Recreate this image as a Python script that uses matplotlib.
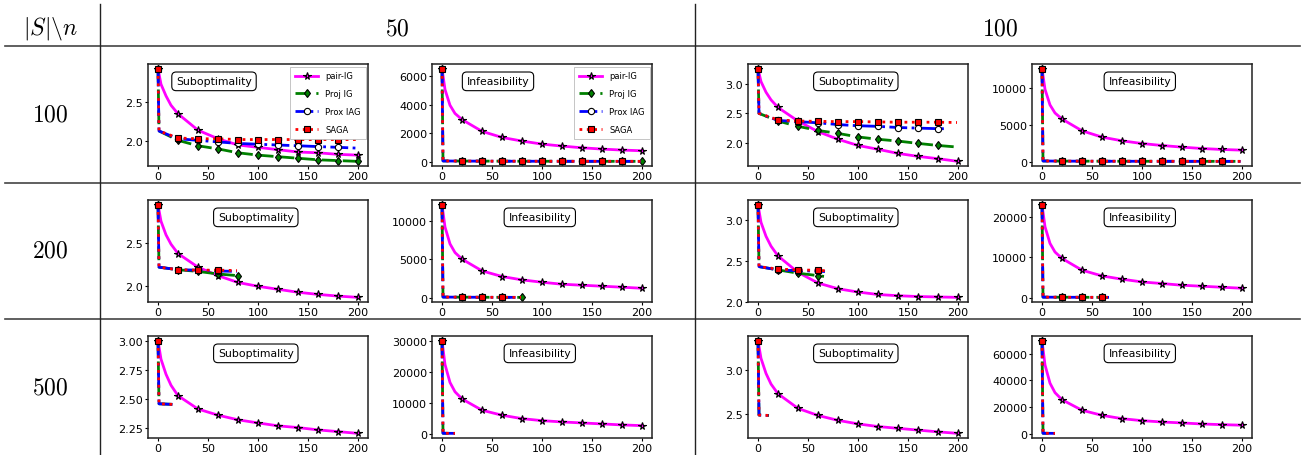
import matplotlib
matplotlib.use("Agg")
import matplotlib.pyplot as plt
from matplotlib.lines import Line2D

plt.rcParams['mathtext.fontset'] = 'cm'
plt.rcParams['font.family'] = ['DejaVu Sans']

# ---------------- data ----------------
series_names = ["pair-IG", "Proj IG", "Prox IAG", "SAGA"]
n_labels = ["50", "100"]
s_labels = ["100", "200", "500"]
panel_titles = ["Suboptimality", "Infeasibility"]
corner_label = r"$|S|\backslash n$"

it_pair = [0, 3, 8, 13, 20, 40, 60, 80, 100, 120, 140, 160, 180, 200]

# |S| = 100, n = 50
pair_s100_n50_sub = [2.93, 2.73, 2.58, 2.46, 2.35, 2.14, 2.03, 1.95, 1.92, 1.89, 1.86, 1.85, 1.83, 1.82]
it_proj_s100_n50 = [0, 1, 20, 40, 60, 80, 100, 120, 140, 160, 180, 200]
it_prox_s100_n50 = [0, 1, 20, 40, 60, 80, 100, 120, 140, 160, 180, 199]
it_saga_s100_n50 = [0, 1, 20, 40, 60, 80, 100, 120, 140, 160, 180, 199]
proj_s100_n50_sub = [2.93, 2.13, 2.01, 1.94, 1.90, 1.85, 1.82, 1.80, 1.78, 1.76, 1.75, 1.74]
prox_s100_n50_sub = [2.93, 2.13, 2.03, 2.01, 1.99, 1.97, 1.96, 1.95, 1.94, 1.93, 1.92, 1.91]
saga_s100_n50_sub = [2.93, 2.13, 2.04, 2.03, 2.03, 2.02, 2.02, 2.02, 2.02, 2.02, 2.02, 2.02]
pair_s100_n50_inf = [6550, 5080, 3970, 3390, 2960, 2130, 1700, 1445, 1230, 1090, 970, 880, 810, 760]
proj_s100_n50_inf = [6550, 45, 35, 30, 26, 23, 21, 19, 17, 16, 15, 14]
prox_s100_n50_inf = [6550, 40, 32, 28, 24, 22, 20, 18, 16, 15, 14, 13]
saga_s100_n50_inf = [6550, 42, 34, 29, 25, 22, 20, 18, 17, 16, 15, 14]

# |S| = 100, n = 100
pair_s100_n100_sub = [3.26, 3.04, 2.86, 2.73, 2.60, 2.37, 2.19, 2.06, 1.955, 1.89, 1.82, 1.77, 1.73, 1.685]
it_proj_s100_n100 = [0, 1, 20, 40, 60, 80, 100, 120, 140, 160, 180, 198]
it_prox_s100_n100 = [0, 1, 20, 40, 60, 80, 100, 120, 140, 160, 180, 188]
it_saga_s100_n100 = [0, 1, 20, 40, 60, 80, 100, 120, 140, 160, 180, 199]
proj_s100_n100_sub = [3.26, 2.50, 2.37, 2.28, 2.21, 2.16, 2.10, 2.06, 2.03, 1.99, 1.955, 1.93]
prox_s100_n100_sub = [3.26, 2.50, 2.38, 2.36, 2.34, 2.31, 2.29, 2.28, 2.26, 2.25, 2.24, 2.24]
saga_s100_n100_sub = [3.26, 2.50, 2.39, 2.37, 2.365, 2.36, 2.36, 2.355, 2.35, 2.35, 2.35, 2.345]
pair_s100_n100_inf = [12630, 9820, 7700, 6600, 5780, 4180, 3320, 2820, 2450, 2180, 1960, 1770, 1640, 1550]
proj_s100_n100_inf = [12630, 80, 60, 50, 45, 40, 36, 33, 30, 28, 26, 25]
prox_s100_n100_inf = [12630, 75, 55, 48, 42, 38, 34, 31, 29, 27, 25, 24]
saga_s100_n100_inf = [12630, 78, 58, 49, 44, 39, 35, 32, 30, 28, 26, 25]

# |S| = 200, n = 50
pair_s200_n50_sub = [2.955, 2.76, 2.60, 2.49, 2.38, 2.22, 2.12, 2.04, 1.995, 1.96, 1.925, 1.90, 1.88, 1.865]
it_proj_s200_n50 = [0, 1, 20, 40, 60, 80]
it_prox_s200_n50 = [0, 1, 20, 40, 60, 79]
it_saga_s200_n50 = [0, 1, 20, 40, 60, 79]
proj_s200_n50_sub = [2.955, 2.22, 2.19, 2.17, 2.14, 2.12]
prox_s200_n50_sub = [2.955, 2.22, 2.19, 2.185, 2.175, 2.17]
saga_s200_n50_sub = [2.955, 2.22, 2.19, 2.185, 2.185, 2.18]
pair_s200_n50_inf = [12180, 9250, 7040, 5900, 5040, 3500, 2760, 2320, 2010, 1750, 1620, 1490, 1360, 1220]
proj_s200_n50_inf = [12180, 70, 50, 40, 32, 28]
prox_s200_n50_inf = [12180, 65, 48, 38, 30, 27]
saga_s200_n50_inf = [12180, 68, 49, 39, 31, 27]

# |S| = 200, n = 100
pair_s200_n100_sub = [3.186, 2.97, 2.80, 2.68, 2.56, 2.36, 2.23, 2.16, 2.12, 2.09, 2.075, 2.065, 2.06, 2.055]
it_proj_s200_n100 = [0, 1, 20, 40, 60, 66]
it_prox_s200_n100 = [0, 1, 20, 40, 60, 67]
it_saga_s200_n100 = [0, 1, 20, 40, 60, 67]
proj_s200_n100_sub = [3.186, 2.43, 2.39, 2.35, 2.32, 2.31]
prox_s200_n100_sub = [3.186, 2.43, 2.39, 2.38, 2.375, 2.37]
saga_s200_n100_sub = [3.186, 2.43, 2.40, 2.39, 2.385, 2.38]
pair_s200_n100_inf = [23150, 17650, 13500, 11350, 9750, 6830, 5400, 4580, 3900, 3500, 3080, 2830, 2580, 2330]
proj_s200_n100_inf = [23150, 120, 90, 75, 65, 60]
prox_s200_n100_inf = [23150, 110, 85, 70, 62, 58]
saga_s200_n100_inf = [23150, 115, 88, 72, 63, 59]

# |S| = 500, n = 50
pair_s500_n50_sub = [3.00, 2.84, 2.71, 2.615, 2.525, 2.41, 2.357, 2.317, 2.29, 2.265, 2.25, 2.23, 2.215, 2.20]
it_other_s500_n50_sub = [0, 1, 15]
it_other_s500_n50_inf = [0, 1, 13]
proj_s500_n50_sub = [3.00, 2.455, 2.45]
prox_s500_n50_sub = [3.00, 2.455, 2.45]
saga_s500_n50_sub = [3.00, 2.455, 2.45]
pair_s500_n50_inf = [30000, 22300, 16500, 13500, 11200, 7550, 5940, 4840, 4190, 3770, 3450, 3130, 2810, 2580]
proj_s500_n50_inf = [30000, 120, 90]
prox_s500_n50_inf = [30000, 110, 85]
saga_s500_n50_inf = [30000, 115, 88]

# |S| = 500, n = 100
pair_s500_n100_sub = [3.33, 3.13, 2.96, 2.84, 2.73, 2.565, 2.485, 2.43, 2.39, 2.36, 2.34, 2.32, 2.30, 2.283]
it_other_s500_n100_sub = [0, 1, 11]
it_other_s500_n100_inf = [0, 1, 13]
proj_s500_n100_sub = [3.33, 2.49, 2.485]
prox_s500_n100_sub = [3.33, 2.49, 2.485]
saga_s500_n100_sub = [3.33, 2.49, 2.485]
pair_s500_n100_inf = [69700, 51500, 37800, 30700, 25400, 17500, 13700, 11200, 9700, 8700, 8000, 7200, 6700, 6300]
proj_s500_n100_inf = [69700, 250, 180]
prox_s500_n100_inf = [69700, 230, 170]
saga_s500_n100_inf = [69700, 240, 175]

# y tick values per panel (row = |S|, col = n, metric)
yt_s100_n50_sub = [2.0, 2.5]
yt_s100_n50_inf = [0, 2000, 4000, 6000]
yt_s100_n100_sub = [2.0, 2.5, 3.0]
yt_s100_n100_inf = [0, 5000, 10000]
yt_s200_n50_sub = [2.0, 2.5]
yt_s200_n50_inf = [0, 5000, 10000]
yt_s200_n100_sub = [2.0, 2.5, 3.0]
yt_s200_n100_inf = [0, 10000, 20000]
yt_s500_n50_sub = [2.25, 2.50, 2.75, 3.00]
yt_s500_n50_inf = [0, 10000, 20000, 30000]
yt_s500_n100_sub = [2.5, 3.0]
yt_s500_n100_inf = [0, 20000, 40000, 60000]
xt = [0, 50, 100, 150, 200]

# panel table: (row, col, title, pair, (it, proj), (it, prox), (it, saga), yticks, legend)
panels = [
    (0, 0, 0, pair_s100_n50_sub, (it_proj_s100_n50, proj_s100_n50_sub), (it_prox_s100_n50, prox_s100_n50_sub), (it_saga_s100_n50, saga_s100_n50_sub), yt_s100_n50_sub, True),
    (0, 1, 1, pair_s100_n50_inf, (it_proj_s100_n50, proj_s100_n50_inf), (it_prox_s100_n50, prox_s100_n50_inf), (it_saga_s100_n50, saga_s100_n50_inf), yt_s100_n50_inf, True),
    (0, 2, 0, pair_s100_n100_sub, (it_proj_s100_n100, proj_s100_n100_sub), (it_prox_s100_n100, prox_s100_n100_sub), (it_saga_s100_n100, saga_s100_n100_sub), yt_s100_n100_sub, False),
    (0, 3, 1, pair_s100_n100_inf, (it_saga_s100_n100, proj_s100_n100_inf), (it_saga_s100_n100, prox_s100_n100_inf), (it_saga_s100_n100, saga_s100_n100_inf), yt_s100_n100_inf, False),
    (1, 0, 0, pair_s200_n50_sub, (it_proj_s200_n50, proj_s200_n50_sub), (it_prox_s200_n50, prox_s200_n50_sub), (it_saga_s200_n50, saga_s200_n50_sub), yt_s200_n50_sub, False),
    (1, 1, 1, pair_s200_n50_inf, (it_proj_s200_n50, proj_s200_n50_inf), (it_prox_s200_n50, prox_s200_n50_inf), (it_saga_s200_n50, saga_s200_n50_inf), yt_s200_n50_inf, False),
    (1, 2, 0, pair_s200_n100_sub, (it_proj_s200_n100, proj_s200_n100_sub), (it_prox_s200_n100, prox_s200_n100_sub), (it_saga_s200_n100, saga_s200_n100_sub), yt_s200_n100_sub, False),
    (1, 3, 1, pair_s200_n100_inf, (it_proj_s200_n100, proj_s200_n100_inf), (it_prox_s200_n100, prox_s200_n100_inf), (it_saga_s200_n100, saga_s200_n100_inf), yt_s200_n100_inf, False),
    (2, 0, 0, pair_s500_n50_sub, (it_other_s500_n50_sub, proj_s500_n50_sub), (it_other_s500_n50_sub, prox_s500_n50_sub), (it_other_s500_n50_sub, saga_s500_n50_sub), yt_s500_n50_sub, False),
    (2, 1, 1, pair_s500_n50_inf, (it_other_s500_n50_inf, proj_s500_n50_inf), (it_other_s500_n50_inf, prox_s500_n50_inf), (it_other_s500_n50_inf, saga_s500_n50_inf), yt_s500_n50_inf, False),
    (2, 2, 0, pair_s500_n100_sub, (it_other_s500_n100_sub, proj_s500_n100_sub), (it_other_s500_n100_sub, prox_s500_n100_sub), (it_other_s500_n100_sub, saga_s500_n100_sub), yt_s500_n100_sub, False),
    (2, 3, 1, pair_s500_n100_inf, (it_other_s500_n100_inf, proj_s500_n100_inf), (it_other_s500_n100_inf, prox_s500_n100_inf), (it_other_s500_n100_inf, saga_s500_n100_inf), yt_s500_n100_inf, False),
]

# ---------------- layout ----------------
W, H = 1304, 456
fig = plt.figure(figsize=(W / 100, H / 100), dpi=100)
fig.patch.set_facecolor('white')

col_left = [148, 432, 748, 1032]
row_top = [65, 201, 337]
ax_w, ax_h = 220, 102

def fx(px):
    return px / W

def fy(py):
    return 1 - py / H

def hline(y, x0, x1, lw=1.0, color='#444444'):
    fig.add_artist(Line2D([fx(x0), fx(x1)], [fy(y), fy(y)], lw=lw, color=color, transform=fig.transFigure))

def vline(x, y0, y1, lw=1.0, color='#222222'):
    fig.add_artist(Line2D([fx(x), fx(x)], [fy(y0), fy(y1)], lw=lw, color=color, transform=fig.transFigure))

hline(47, 5, 1300, lw=1.2)
hline(184, 5, 1300, lw=1.2)
hline(320, 5, 1300, lw=1.2)
vline(100, 5, 456)
vline(695, 5, 456)

fig.text(fx(50), fy(28), corner_label, ha='center', va='center', fontsize=17)
fig.text(fx(397), fy(28), "$" + n_labels[0] + "$", ha='center', va='center', fontsize=17)
fig.text(fx(1000), fy(28), "$" + n_labels[1] + "$", ha='center', va='center', fontsize=17)
for r, yc in enumerate([115, 251, 388]):
    fig.text(fx(50), fy(yc), "$" + s_labels[r] + "$", ha='center', va='center', fontsize=17)

styles = [
    dict(color='#ff00ff', ls='-', marker='*', mfc='#ff00ff', ms=5.5),
    dict(color='green', ls=(0, (5, 2.5)), marker='d', mfc='green', ms=4.5),
    dict(color='blue', ls='-.', marker='o', mfc='white', ms=4.5),
    dict(color='red', ls=':', marker='s', mfc='red', ms=4.5),
]

for (r, c, t, pair, proj, prox, saga, yt, leg) in panels:
    ax = fig.add_axes([fx(col_left[c]), fy(row_top[r] + ax_h), fx(ax_w), ax_h / H])
    handles = []
    for k, (xs, ys) in enumerate([(it_pair, pair), proj, prox, saga]):
        st = styles[k]
        mk = [i for i, x in enumerate(xs) if x % 20 == 0]
        h, = ax.plot(xs, ys, color=st['color'], ls=st['ls'], lw=2.0, marker=st['marker'],
                     mfc=st['mfc'], mec='black', mew=0.8, ms=st['ms'], markevery=mk,
                     label=series_names[k])
        handles.append(h)
    ax.set_xticks(xt)
    ax.set_yticks(yt)
    ax.tick_params(labelsize=8, length=2, width=0.8, direction='out', pad=1.5)
    for sp in ax.spines.values():
        sp.set_linewidth(1.1)
        sp.set_color('#222222')
    tx = 0.30 if leg else 0.49
    ax.text(tx, 0.83, panel_titles[t], transform=ax.transAxes, ha='center', va='center', fontsize=7.8,
            bbox=dict(boxstyle='round,pad=0.4', fc='white', ec='black', lw=0.8))
    if leg:
        lg = ax.legend(handles=handles, loc='upper right', fontsize=6, labelspacing=1.05,
                       handlelength=2.8, borderaxespad=0.3, fancybox=False, framealpha=1,
                       edgecolor='#bbbbbb', borderpad=0.6)
        lg.get_frame().set_linewidth(0.6)

fig.savefig('out.png', dpi=100)
